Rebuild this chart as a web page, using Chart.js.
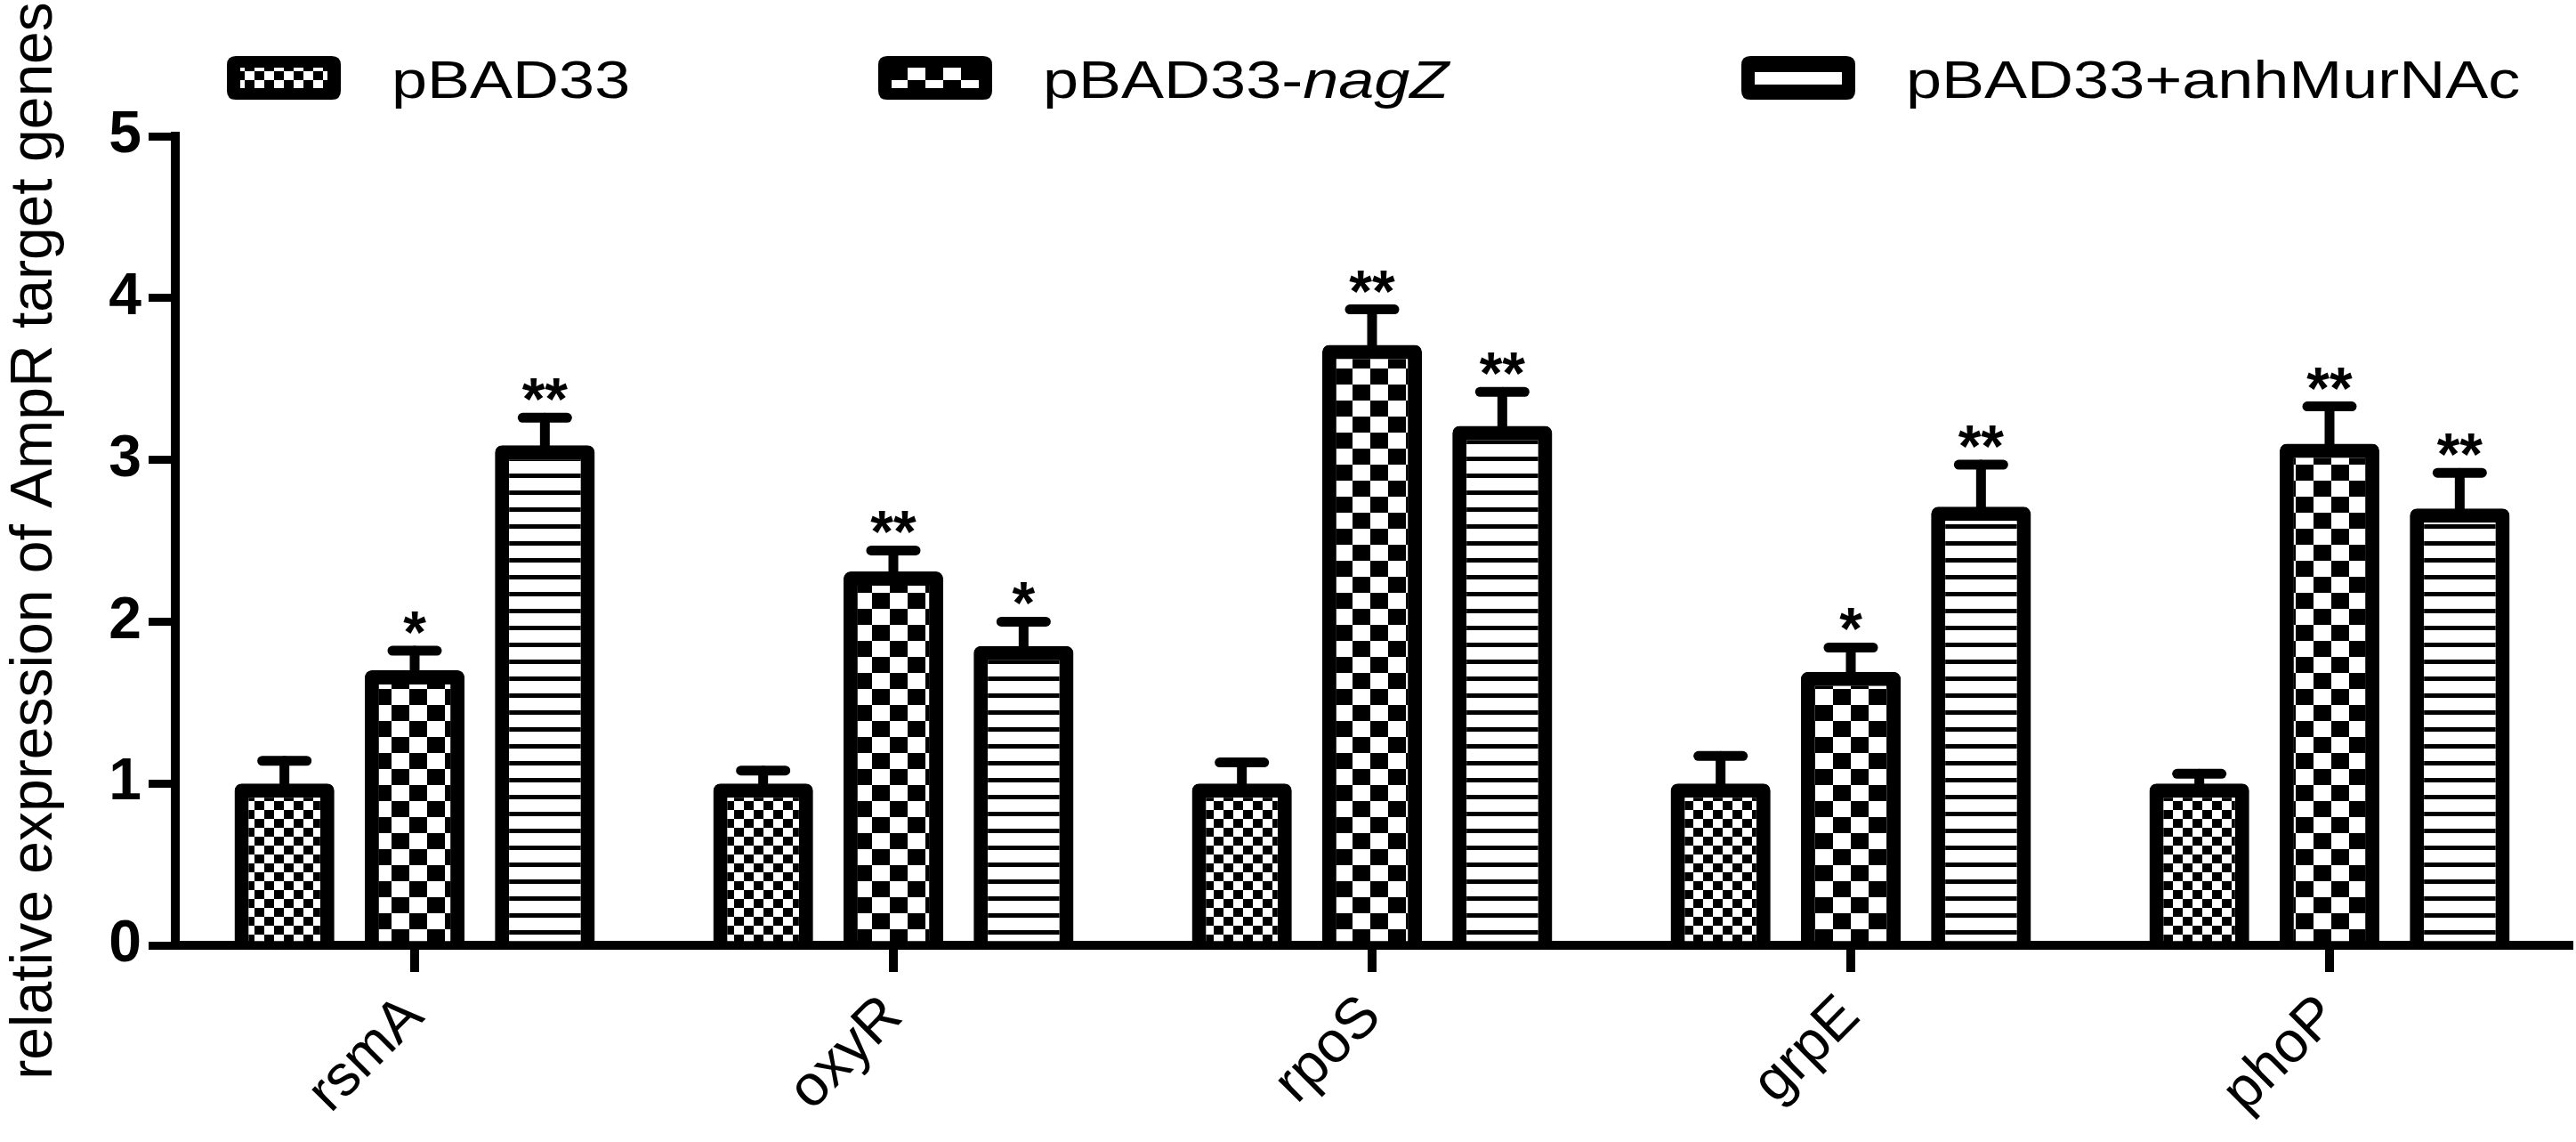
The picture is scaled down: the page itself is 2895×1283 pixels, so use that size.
<!DOCTYPE html>
<html>
<head>
<meta charset="utf-8">
<script src="https://cdn.jsdelivr.net/npm/chart.js@4.4.0/dist/chart.umd.min.js"></script>
<style>
  html, body { margin: 0; padding: 0; background: #fff; }
  #wrap { width: 2895px; height: 1283px; position: relative; }
</style>
</head>
<body>
<div id="wrap"><canvas id="myChart"></canvas></div>
<script>
var genes = ['rsmA', 'oxyR', 'rpoS', 'grpE', 'phoP'];
var seriesNames = ['pBAD33', 'pBAD33-nagZ', 'pBAD33+anhMurNAc'];

var ctrlValues = [1.00, 1.00, 1.00, 1.00, 1.00];
var nagZValues = [1.70, 2.31, 3.71, 1.69, 3.10];
var anhValues  = [3.09, 1.85, 3.21, 2.71, 2.70];

// upper error (SD)
var ctrlErr = [0.14, 0.08, 0.13, 0.17, 0.06];
var nagZErr = [0.12, 0.13, 0.22, 0.15, 0.23];
var anhErr  = [0.17, 0.15, 0.21, 0.26, 0.22];

var ctrlSig = ['', '', '', '', ''];
var nagZSig = ['*', '**', '**', '*', '**'];
var anhSig  = ['**', '*', '**', '**', '**'];

var yTicks = [0, 1, 2, 3, 4, 5];

var FONT = '"Liberation Sans", Arial, Helvetica, sans-serif';

var ctx = document.getElementById('myChart').getContext('2d');

// fill patterns, like the prism hatching
function makePattern(kind) {
  var c = document.createElement('canvas');
  var g = c.getContext('2d');
  if (kind === 'small') {
    c.width = 22; c.height = 20;
    g.fillStyle = '#fff'; g.fillRect(0, 0, 22, 20);
    g.fillStyle = '#000';
    g.fillRect(0, 0, 11, 10);
    g.fillRect(11, 10, 11, 10);
  } else if (kind === 'large') {
    c.width = 40; c.height = 36;
    g.fillStyle = '#fff'; g.fillRect(0, 0, 40, 36);
    g.fillStyle = '#000';
    g.fillRect(0, 0, 20, 18);
    g.fillRect(20, 18, 20, 18);
  } else {
    c.width = 8; c.height = 19;
    g.fillStyle = '#fff'; g.fillRect(0, 0, 8, 19);
    g.fillStyle = '#000';
    g.fillRect(0, 0, 8, 5);
  }
  return ctx.createPattern(c, 'repeat');
}

var patterns = [makePattern('small'), makePattern('large'), makePattern('stripe')];

var errBars = {
  id: 'errBars',
  afterDatasetsDraw: function (chart) {
    var c = chart.ctx;
    var y = chart.scales.y;
    chart.data.datasets.forEach(function (ds, di) {
      var meta = chart.getDatasetMeta(di);
      meta.data.forEach(function (bar, i) {
        var top = y.getPixelForValue(ds.data[i] + ds.errors[i]);
        c.save();
        c.strokeStyle = '#000';
        c.lineWidth = 11;
        c.lineCap = 'round';
        c.beginPath();
        c.moveTo(bar.x, bar.y + 6);
        c.lineTo(bar.x, top);
        c.stroke();
        c.beginPath();
        c.moveTo(bar.x - 25, top);
        c.lineTo(bar.x + 25, top);
        c.stroke();
        if (ds.sig[i]) {
          c.fillStyle = '#000';
          c.font = 'bold 66px ' + FONT;
          c.textAlign = 'center';
          c.textBaseline = 'alphabetic';
          c.fillText(ds.sig[i], bar.x, top + 2);
        }
        c.restore();
      });
    });
  }
};

// legend drawn by hand: needs the italic "nagZ" and the boxed swatches
var legendParts = [
  [['pBAD33', 'normal']],
  [['pBAD33-', 'normal'], ['nagZ', 'italic']],
  [['pBAD33+anhMurNAc', 'normal']]
];
var legendX = [255, 987, 1957];

function roundRect(c, x, y, w, h, r) {
  c.beginPath();
  c.moveTo(x + r, y);
  c.lineTo(x + w - r, y);
  c.quadraticCurveTo(x + w, y, x + w, y + r);
  c.lineTo(x + w, y + h - r);
  c.quadraticCurveTo(x + w, y + h, x + w - r, y + h);
  c.lineTo(x + r, y + h);
  c.quadraticCurveTo(x, y + h, x, y + h - r);
  c.lineTo(x, y + r);
  c.quadraticCurveTo(x, y, x + r, y);
  c.closePath();
}

var boxLegend = {
  id: 'boxLegend',
  afterDraw: function (chart) {
    var c = chart.ctx;
    legendParts.forEach(function (parts, i) {
      var x = legendX[i];
      c.save();
      c.fillStyle = '#000';
      roundRect(c, x, 63, 128, 49, 10);
      c.fill();
      c.fillStyle = patterns[i];
      c.fillRect(x + 15, 76, 98, 23);
      c.restore();

      c.save();
      c.translate(x + 185, 110);
      c.scale(1.2, 1);
      c.fillStyle = '#000';
      c.textBaseline = 'alphabetic';
      c.textAlign = 'left';
      var tx = 0;
      parts.forEach(function (p) {
        c.font = p[1] + ' 60px ' + FONT;
        c.fillText(p[0], tx, 0);
        tx += c.measureText(p[0]).width;
      });
      c.restore();
    });
  }
};

var values = [ctrlValues, nagZValues, anhValues];
var errs = [ctrlErr, nagZErr, anhErr];
var sigs = [ctrlSig, nagZSig, anhSig];

var data = {
  labels: genes,
  datasets: seriesNames.map(function (name, i) {
    return {
      label: name,
      data: values[i],
      errors: errs[i],
      sig: sigs[i],
      backgroundColor: patterns[i],
      borderColor: '#000',
      borderWidth: 16,
      borderRadius: 8,
      borderSkipped: 'start',
      categoryPercentage: 0.816,
      barPercentage: 0.767
    };
  })
};

var options = {
  responsive: true,
  maintainAspectRatio: false,
  animation: false,
  layout: { padding: { top: 153, right: 8, bottom: 0, left: 0 } },
  plugins: {
    legend: { display: false },
    tooltip: { enabled: false }
  },
  scales: {
    x: {
      offset: true,
      grid: { offset: false, drawOnChartArea: false, drawTicks: true, tickLength: 30, lineWidth: 10, color: '#000' },
      border: { display: true, width: 10, color: '#000' },
      ticks: {
        maxRotation: 45, minRotation: 45,
        color: '#000',
        padding: 12,
        font: { family: FONT, size: 65 }
      },
      afterFit: function (s) { s.height = 221; }
    },
    y: {
      min: 0, max: 5,
      afterBuildTicks: function (s) { s.ticks = yTicks.map(function (v) { return { value: v }; }); },
      grid: { drawOnChartArea: false, drawTicks: true, tickLength: 30, lineWidth: 9, color: '#000' },
      border: { display: true, width: 10, color: '#000' },
      ticks: {
        color: '#000',
        padding: 8,
        font: { family: FONT, size: 66, weight: 'bold' }
      },
      title: {
        display: true,
        text: 'relative expression of AmpR target genes',
        color: '#000',
        padding: 0,
        font: { family: FONT, size: 66 }
      },
      afterFit: function (s) { s.width = 197; }
    }
  }
};

var myBarChart = new Chart(ctx, {
  type: 'bar',
  data: data,
  options: options,
  plugins: [errBars, boxLegend]
});
</script>
</body>
</html>
